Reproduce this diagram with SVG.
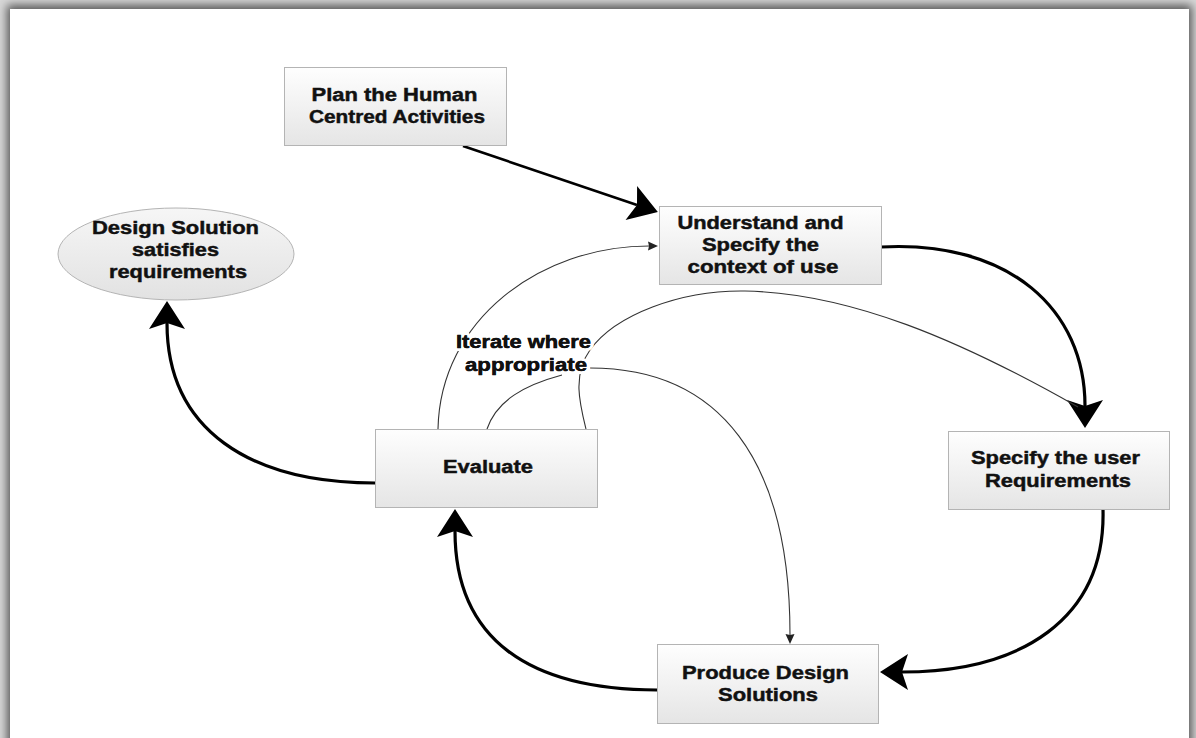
<svg xmlns="http://www.w3.org/2000/svg" width="1196" height="738" viewBox="0 0 1196 738">
  <style>
    .box { fill: url(#boxFill); stroke: #b4b4b4; stroke-width: 1; }
    .lbl { font-family: "Liberation Sans", Arial, Helvetica, sans-serif; font-weight: bold; font-size: 18px; fill: #111; stroke: #111; stroke-width: 0.45; text-anchor: middle; }
    .halo { stroke: #fff; stroke-width: 6; stroke-linejoin: round; paint-order: stroke; }
    .thick { fill: none; stroke: #000; stroke-width: 3.2; }
    .thin { fill: none; stroke: #333; stroke-width: 1.1; }
  </style>
  <defs>
    <linearGradient id="boxFill" x1="0" y1="0" x2="0" y2="1">
      <stop offset="0" stop-color="#fefefe"/>
      <stop offset="1" stop-color="#e5e5e5"/>
    </linearGradient>
    <linearGradient id="ovalFill" x1="0" y1="0" x2="0" y2="1">
      <stop offset="0" stop-color="#f6f6f6"/>
      <stop offset="1" stop-color="#e2e2e2"/>
    </linearGradient>
    <filter id="soft" x="-5%" y="-5%" width="110%" height="110%">
      <feGaussianBlur stdDeviation="5"/>
    </filter>
    <marker id="bigHead" markerUnits="userSpaceOnUse" viewBox="-30 -30 60 60" markerWidth="60" markerHeight="60" refX="0" refY="0" orient="auto" overflow="visible">
      <path d="M22,0 L-6,-18 L0,0 L-6,18 Z" fill="#000"/>
    </marker>
    <marker id="smallHead" markerUnits="userSpaceOnUse" viewBox="-15 -15 30 30" markerWidth="30" markerHeight="30" refX="0" refY="0" orient="auto" overflow="visible">
      <path d="M9,0 L-1,-4.5 L0,0 L-1,4.5 Z" fill="#222"/>
    </marker>
  </defs>

  <!-- page with soft drop shadow -->
  <rect x="0" y="0" width="1196" height="738" fill="#d8d8d8"/>
  <rect x="7" y="5" width="1185" height="760" fill="#000" opacity="0.6" filter="url(#soft)"/>
  <rect x="10" y="9" width="1179" height="760" fill="#fff"/>

  <!-- connectors -->
  <g id="connectors">
    <path class="thick" style="stroke-width:2.6" d="M463,146 L637,205" marker-end="url(#bigHead)"/>
    <path class="thick" d="M881,247 C1010,240 1085,310 1085,406" marker-end="url(#bigHead)"/>
    <path class="thick" d="M1103,509 C1106,620 1020,672 902,672" marker-end="url(#bigHead)"/>
    <path class="thick" d="M657,690 C530,690 455,640 455,531" marker-end="url(#bigHead)"/>
    <path class="thick" d="M375,483 C250,483 167,430 167,323" marker-end="url(#bigHead)"/>

    <path class="thin" d="M438,429 C440,320 540,246 649,246" marker-end="url(#smallHead)"/>
    <path class="thin" d="M487,429 C497,400 525,385 562,375"/>
    <path class="thin" d="M586,429 C580,405 572,375 590,350 C615,315 680,290 745,291 C850,293 960,340 1078,407"/>
    <path class="thin" d="M590,368 C720,368 790,460 790,635" marker-end="url(#smallHead)"/>

    <text class="lbl halo">
      <tspan x="526" y="348" textLength="135" lengthAdjust="spacingAndGlyphs">Iterate where</tspan>
      <tspan x="526" y="371" textLength="122" lengthAdjust="spacingAndGlyphs">appropriate</tspan>
    </text>
    <text class="lbl">
      <tspan x="526" y="348" textLength="135" lengthAdjust="spacingAndGlyphs">Iterate where</tspan>
      <tspan x="526" y="371" textLength="122" lengthAdjust="spacingAndGlyphs">appropriate</tspan>
    </text>
  </g>

  <!-- nodes -->
  <g id="plan">
    <rect class="box" x="284.5" y="67.5" width="222" height="78"/>
    <text class="lbl">
      <tspan x="397" y="101" textLength="166" lengthAdjust="spacingAndGlyphs">Plan the Human</tspan>
      <tspan x="397" y="123" textLength="176" lengthAdjust="spacingAndGlyphs">Centred Activities</tspan>
    </text>
  </g>

  <g id="understand">
    <rect class="box" x="659.5" y="206.5" width="222" height="78"/>
    <text class="lbl">
      <tspan x="763" y="229" textLength="166" lengthAdjust="spacingAndGlyphs">Understand and</tspan>
      <tspan x="763" y="251" textLength="117" lengthAdjust="spacingAndGlyphs">Specify the</tspan>
      <tspan x="763" y="273" textLength="151" lengthAdjust="spacingAndGlyphs">context of use</tspan>
    </text>
  </g>

  <g id="satisfied">
    <ellipse cx="176" cy="254" rx="118" ry="46" fill="url(#ovalFill)" stroke="#b4b4b4" stroke-width="1"/>
    <text class="lbl">
      <tspan x="178" y="234" textLength="167" lengthAdjust="spacingAndGlyphs">Design Solution</tspan>
      <tspan x="178" y="256" textLength="87" lengthAdjust="spacingAndGlyphs">satisfies</tspan>
      <tspan x="178" y="278" textLength="138" lengthAdjust="spacingAndGlyphs">requirements</tspan>
    </text>
  </g>

  <g id="evaluate">
    <rect class="box" x="375.5" y="429.5" width="222" height="78"/>
    <text class="lbl">
      <tspan x="488" y="473" textLength="90" lengthAdjust="spacingAndGlyphs">Evaluate</tspan>
    </text>
  </g>

  <g id="user-requirements">
    <rect class="box" x="948.5" y="431.5" width="221" height="78"/>
    <text class="lbl">
      <tspan x="1058" y="464" textLength="169" lengthAdjust="spacingAndGlyphs">Specify the user</tspan>
      <tspan x="1058" y="487" textLength="146" lengthAdjust="spacingAndGlyphs">Requirements</tspan>
    </text>
  </g>

  <g id="produce">
    <rect class="box" x="657.5" y="644.5" width="221" height="79"/>
    <text class="lbl">
      <tspan x="768" y="679" textLength="167" lengthAdjust="spacingAndGlyphs">Produce Design</tspan>
      <tspan x="768" y="701" textLength="100" lengthAdjust="spacingAndGlyphs">Solutions</tspan>
    </text>
  </g>
</svg>
